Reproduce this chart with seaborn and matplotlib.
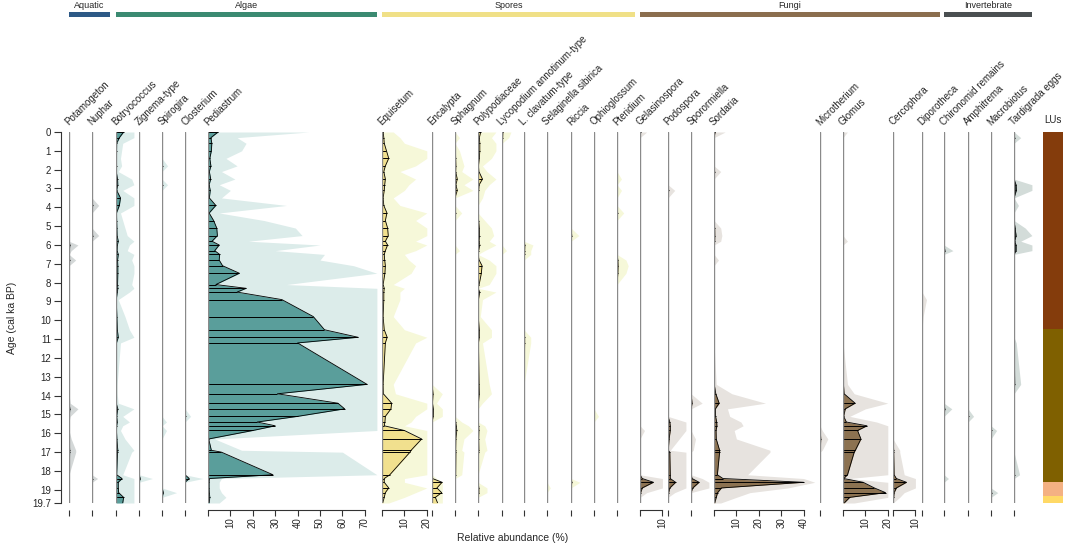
import numpy as np
import pandas as pd
import matplotlib
matplotlib.use("Agg")
import matplotlib.pyplot as plt
import seaborn as sns

sns.set_style("white")
plt.rcParams["font.family"] = ["Liberation Sans", "DejaVu Sans"]
plt.rcParams["axes.linewidth"] = 0.8

# sample ages (cal ka BP)
ages = [0.0, 0.3, 0.6, 1.0, 1.4, 1.8, 2.1, 2.5, 2.8, 3.1,
        3.5, 3.9, 4.3, 4.7, 5.1, 5.5, 5.8, 6.0, 6.3, 6.5,
        6.8, 7.1, 7.5, 8.1, 8.3, 8.5, 8.9, 9.8, 10.5, 10.9,
        11.2, 13.4, 13.9, 14.4, 14.7, 15.1, 15.4, 15.6, 15.85, 16.3,
        16.9, 17.0, 18.2, 18.4, 18.6, 18.9, 19.15, 19.4, 19.7]

# relative abundance (%) per taxon, one value per sample age
potamogeton = [0, 0, 0, 0, 0, 0, 0, 0, 0, 0,
               0, 0, 0, 0, 0, 0, 0, 0.4, 0.1, 0,
               0.3, 0, 0, 0, 0, 0, 0, 0, 0, 0,
               0, 0, 0, 0.05, 0.4, 0.05, 0, 0, 0, 0.1,
               0.3, 0.3, 0, 0, 0, 0, 0, 0, 0]
nuphar = [0, 0, 0, 0, 0, 0, 0, 0, 0, 0,
          0, 0.3, 0, 0, 0, 0.3, 0, 0, 0, 0,
          0, 0, 0, 0, 0, 0, 0, 0, 0, 0,
          0, 0, 0, 0, 0, 0, 0, 0, 0, 0,
          0, 0, 0, 0.25, 0, 0, 0, 0, 0]
botryococcus = [3.4, 1.5, 0.3, 0.25, 0.2, 0.25, 0.1, 0.7, 0.8, 0.3,
                2.0, 1.5, 0.2, 0.3, 0.4, 0.5, 1.0, 0.6, 0.5, 1.0,
                0.7, 0.8, 0.8, 0.7, 0.8, 0.6, 0.1, 0.4, 0.6, 1.0,
                0.2, 0.05, 0.05, 0.1, 0.8, 0.3, 0.6, 0.3, 0.2, 0.4,
                0.8, 0.7, 0.3, 2.7, 1.0, 1.0, 1.2, 3.4, 3.0]
zignema = [0, 0, 0, 0, 0, 0, 0, 0, 0, 0,
           0, 0, 0, 0, 0, 0, 0, 0, 0, 0,
           0, 0, 0, 0, 0, 0, 0, 0, 0, 0,
           0, 0, 0, 0, 0, 0, 0, 0, 0, 0,
           0, 0, 0, 0.6, 0, 0, 0, 0, 0]
spirogira = [0, 0, 0, 0, 0, 0.25, 0, 0, 0.25, 0,
             0, 0, 0, 0, 0, 0, 0, 0, 0, 0,
             0, 0, 0, 0, 0, 0, 0, 0, 0, 0,
             0, 0, 0, 0, 0, 0, 0.2, 0, 0.2, 0,
             0, 0, 0, 0, 0, 0, 0.65, 0, 0]
closterium = [0, 0, 0, 0, 0, 0, 0, 0, 0, 0,
              0, 0, 0, 0, 0, 0, 0, 0, 0, 0,
              0, 0, 0, 0, 0, 0, 0, 0, 0, 0,
              0, 0, 0, 0, 0, 0.25, 0, 0, 0, 0,
              0, 0, 0, 1.9, 0, 0, 0, 0, 0]
pediastrum = [4.5, 1.3, 1.7, 1.5, 0.8, 1.3, 0.6, 1.2, 0.5, 1.0,
              0.6, 3.5, 0.5, 2.5, 3.9, 4.2, 1.8, 5.0, 3.0, 5.2,
              5.0, 6.5, 14, 3.5, 17, 13, 33, 47, 52, 67,
              40, 71, 31, 58, 61, 40, 22, 30, 20, 0.3,
              1.5, 6, 29, 0.6, 0.5, 0.5, 0.6, 0.8, 0.5]
equisetum = [0.5, 0.8, 1.0, 2.0, 3.0, 1.5, 0.8, 1.5, 1.2, 1.0,
             0.5, 0.8, 2.2, 1.5, 2.5, 2.8, 1.5, 2.5, 1.5, 1.0,
             1.2, 1.5, 1.3, 0.5, 1.0, 0.8, 0.8, 0.5, 1.0, 2.3,
             1.5, 0.5, 0.6, 4.3, 4.0, 1.5, 1.3, 1.0, 10, 17.7,
             13, 12.5, 3.5, 1.0, 1.0, 3.0, 1.5, 1.0, 0.3]
encalypta = [0, 0, 0, 0, 0, 0, 0, 0, 0, 0,
             0, 0, 0, 0, 0, 0, 0, 0, 0, 0,
             0, 0, 0, 0, 0, 0, 0, 0, 0, 0,
             0, 0, 0.5, 0.2, 0.65, 0.6, 0, 0, 0, 0,
             0, 0, 0, 0.2, 4.5, 2.2, 4.3, 1.5, 2.5]
sphagnum = [0, 0.2, 0, 0.2, 0.3, 0.4, 0.3, 1.0, 0.4, 1.0,
            0, 0, 0.3, 0, 0, 0, 0, 0, 0.2, 0,
            0, 0, 0, 0, 0, 0, 0, 0, 0, 0,
            0, 0, 0, 0, 0, 0, 0.3, 0.6, 0.8, 0.4,
            0.3, 0.4, 0.3, 0, 0, 0, 0, 0, 0]
polypodiaceae = [1.2, 0.6, 0.8, 0.8, 0.6, 0.2, 0.4, 2.0, 0.5, 0.3,
                 0.2, 0, 0, 0.3, 0.6, 0.7, 0.5, 0.8, 0.3, 0,
                 0.5, 1.8, 1.5, 0.5, 0, 0.8, 0.2, 0.1, 0.6, 0.6,
                 0.2, 0.5, 0.6, 0.2, 0, 0, 0, 0.3, 0.4, 0.3,
                 0.4, 0.3, 0, 0, 0, 0.4, 0.4, 0, 0]
lycopodium = [0.4, 0.3, 0, 0, 0, 0, 0, 0, 0, 0,
              0, 0, 0, 0, 0, 0, 0, 0, 0.2, 0,
              0, 0, 0, 0, 0, 0, 0, 0, 0, 0,
              0, 0, 0, 0, 0, 0, 0, 0, 0, 0,
              0, 0, 0, 0, 0, 0, 0, 0, 0]
l_clavatum = [0, 0, 0, 0, 0, 0, 0, 0, 0, 0,
              0, 0, 0, 0, 0, 0, 0, 0.4, 0.3, 0.3,
              0, 0, 0, 0, 0, 0, 0, 0, 0, 0.3,
              0.3, 0, 0, 0, 0, 0, 0, 0, 0, 0,
              0, 0, 0, 0, 0, 0, 0, 0, 0]
selaginella = [0, 0, 0, 0, 0, 0, 0, 0, 0, 0,
               0, 0, 0, 0, 0, 0, 0, 0, 0, 0,
               0, 0, 0, 0, 0, 0, 0, 0, 0, 0,
               0, 0, 0, 0, 0, 0, 0, 0, 0, 0,
               0, 0, 0, 0, 0, 0.15, 0, 0, 0]
riccia = [0, 0, 0, 0, 0, 0, 0, 0, 0, 0,
          0, 0, 0, 0, 0, 0.35, 0, 0, 0, 0,
          0, 0, 0, 0, 0, 0, 0, 0, 0, 0,
          0, 0, 0, 0, 0, 0, 0, 0, 0, 0,
          0, 0, 0, 0, 0.4, 0, 0, 0, 0]
ophioglossum = [0, 0, 0, 0, 0, 0, 0, 0, 0, 0,
                0, 0, 0, 0, 0, 0, 0, 0, 0, 0,
                0, 0, 0, 0, 0, 0, 0, 0, 0, 0,
                0, 0, 0, 0, 0, 0.2, 0, 0, 0, 0,
                0, 0, 0, 0, 0, 0, 0, 0, 0]
pteridium = [0, 0, 0, 0, 0, 0, 0, 0.2, 0, 0.2,
             0, 0, 0.3, 0, 0, 0, 0, 0, 0, 0,
             0.4, 0.5, 0.4, 0, 0, 0, 0, 0, 0, 0,
             0, 0, 0, 0, 0, 0, 0, 0, 0, 0,
             0, 0, 0, 0, 0, 0, 0, 0, 0]
gelasinospora = [0.3, 0, 0, 0, 0, 0, 0, 0, 0, 0,
                 0, 0, 0, 0, 0, 0, 0, 0, 0, 0,
                 0, 0, 0, 0, 0, 0, 0, 0, 0, 0,
                 0, 0, 0, 0, 0, 0, 0, 0, 0.2, 0,
                 0, 0, 0, 1.0, 6.0, 1.0, 0.3, 0, 0]
podospora = [0, 0, 0, 0, 0, 0, 0, 0, 0, 0.3,
             0, 0, 0, 0, 0, 0, 0, 0, 0, 0,
             0, 0, 0, 0, 0, 0, 0, 0, 0, 0,
             0, 0, 0, 0, 0, 0, 0.8, 1.0, 1.0, 0.5,
             0.1, 0.8, 1.0, 1.0, 3.4, 0.8, 0.3, 0, 0]
sporormiella = [0, 0, 0, 0, 0, 0, 0, 0, 0, 0,
                0, 0, 0, 0, 0, 0, 0, 0, 0, 0,
                0, 0, 0, 0, 0, 0, 0, 0, 0, 0,
                0, 0, 0, 0.5, 0, 0, 0, 0, 0, 0.2,
                0.1, 0, 0, 0.5, 3.6, 0.8, 0, 0, 0]
sordaria = [0.5, 0, 0, 0, 0, 0, 0.3, 0, 0, 0,
            0, 0, 0, 0, 0.3, 0.35, 0.3, 0, 0, 0,
            0.2, 0, 0, 0, 0, 0, 0, 0, 0, 0,
            0, 0.1, 0.8, 2.3, 0.6, 0.7, 1.2, 1.3, 0.9, 1.0,
            2.5, 2.5, 1.5, 4.0, 40, 3.3, 1.6, 1.0, 0.3]
microtherium = [0, 0, 0, 0, 0, 0, 0, 0, 0, 0,
                0, 0, 0, 0, 0, 0, 0, 0, 0, 0,
                0, 0, 0, 0, 0, 0, 0, 0, 0, 0,
                0, 0, 0, 0, 0, 0, 0, 0, 0.1, 0.35,
                0.1, 0, 0, 0, 0, 0, 0, 0, 0]
glomus = [0.2, 0, 0, 0, 0, 0, 0, 0, 0, 0,
          0, 0, 0, 0, 0, 0, 0.2, 0, 0, 0,
          0, 0, 0, 0, 0, 0, 0, 0, 0, 0,
          0, 0.2, 0.5, 5.4, 1.0, 0.3, 1.5, 10.7, 6.5, 8.0,
          5.5, 5.0, 2.0, 0.3, 9, 14, 19, 3, 0.5]
cercophora = [0, 0, 0, 0, 0, 0, 0, 0, 0, 0,
              0, 0, 0, 0, 0, 0, 0, 0, 0, 0,
              0, 0, 0, 0, 0, 0, 0, 0, 0, 0,
              0, 0, 0, 0, 0, 0, 0, 0, 0, 0,
              0.3, 0.3, 0.5, 1.5, 6, 1.5, 0.5, 0.3, 0]
diporotheca = [0, 0, 0, 0, 0, 0, 0, 0, 0, 0,
               0, 0, 0, 0, 0, 0, 0, 0, 0, 0,
               0, 0, 0, 0, 0, 0, 0.2, 0.05, 0, 0,
               0, 0, 0, 0, 0, 0, 0, 0, 0, 0,
               0, 0, 0, 0, 0, 0, 0, 0, 0]
chironomid = [0, 0, 0, 0, 0, 0, 0, 0, 0, 0,
              0, 0, 0, 0, 0, 0, 0, 0, 0.4, 0,
              0, 0, 0, 0, 0, 0, 0, 0, 0, 0,
              0, 0, 0, 0, 0.35, 0, 0, 0, 0, 0,
              0, 0, 0, 0.2, 0, 0, 0, 0, 0]
amphitrema = [0, 0, 0, 0, 0, 0, 0, 0, 0, 0,
              0, 0, 0, 0, 0, 0, 0, 0, 0, 0,
              0, 0, 0, 0, 0, 0, 0, 0, 0, 0,
              0, 0, 0, 0, 0, 0.25, 0, 0, 0, 0,
              0, 0, 0, 0, 0, 0, 0, 0, 0]
macrobiotus = [0, 0, 0, 0, 0, 0, 0, 0, 0, 0,
               0, 0, 0, 0, 0, 0, 0, 0, 0, 0,
               0, 0, 0, 0, 0, 0, 0, 0, 0, 0,
               0, 0, 0, 0, 0, 0, 0, 0, 0.25, 0,
               0, 0, 0, 0, 0, 0, 0.3, 0, 0]
tardigrada = [0, 0.3, 0, 0, 0, 0, 0, 0, 0.9, 1.0,
              0, 0.2, 0, 0, 0.5, 0.9, 0.3, 0.9, 0.9, 0,
              0, 0, 0, 0, 0, 0, 0, 0, 0, 0,
              0.1, 0.3, 0, 0, 0, 0, 0, 0, 0, 0,
              0, 0, 0.25, 0, 0, 0, 0, 0, 0]

# local units (zone boundaries in cal ka BP)
lu_edges = [0, 10.46, 18.58, 19.33, 19.7]
lu_colors = ["#843c0c", "#7f6000", "#f4b183", "#ffd966"]

# group: header bar, main fill, x10 exaggeration fill
group_colors = {
    "Aquatic": ("#2d5986", "#5b6262", "#d4d8d8"),
    "Algae": ("#3b8a71", "#5a9e9b", "#dcecea"),
    "Spores": ("#f0e087", "#f1e08e", "#f6f8d9"),
    "Fungi": ("#8b6e4e", "#8c7251", "#e7e3df"),
    "Invertebrate": ("#4a4f51", "#24332f", "#d3dcd9"),
}

# name, values, group, left px, width (%), labelled ticks, exaggeration clip
columns = [
    ("Potamogeton", potamogeton, "Aquatic", 69, 8, [], None),
    ("Nuphar", nuphar, "Aquatic", 92, 8, [], None),
    ("Botryococcus", botryococcus, "Algae", 116, 8, [], None),
    ("Zignema-type", zignema, "Algae", 139, 8, [], None),
    ("Spirogira", spirogira, "Algae", 162, 8, [], None),
    ("Closterium", closterium, "Algae", 185, 8, [], None),
    ("Pediastrum", pediastrum, "Algae", 208, 75.4, [10, 20, 30, 40, 50, 60, 70], None),
    ("Equisetum", equisetum, "Spores", 382, 20, [10, 20], None),
    ("Encalypta", encalypta, "Spores", 432, 8, [], 4.6),
    ("Sphagnum", sphagnum, "Spores", 455, 8, [], None),
    ("Polypodiaceae", polypodiaceae, "Spores", 478, 8, [], None),
    ("Lycopodium annotinum-type", lycopodium, "Spores", 502, 8, [], None),
    ("L. clavatum-type", l_clavatum, "Spores", 524, 8, [], None),
    ("Selaginella sibirica", selaginella, "Spores", 547, 8, [], None),
    ("Riccia", riccia, "Spores", 571, 8, [], None),
    ("Ophioglossum", ophioglossum, "Spores", 594, 8, [], None),
    ("Pteridium", pteridium, "Spores", 617, 8, [], None),
    ("Gelasinospora", gelasinospora, "Fungi", 640, 10, [10], None),
    ("Podospora", podospora, "Fungi", 668, 8, [], None),
    ("Sporormiella", sporormiella, "Fungi", 691, 8, [], None),
    ("Sordaria", sordaria, "Fungi", 714, 45, [10, 20, 30, 40], None),
    ("Microtherium", microtherium, "Fungi", 820, 8, [], None),
    ("Glomus", glomus, "Fungi", 843, 20, [10, 20], None),
    ("Cercophora", cercophora, "Fungi", 893, 10, [10], None),
    ("Diporotheca", diporotheca, "Fungi", 922, 8, [], None),
    ("Chironomid remains", chironomid, "Invertebrate", 944, 8, [], None),
    ("Amphitrema", amphitrema, "Invertebrate", 968, 8, [], None),
    ("Macrobiotus", macrobiotus, "Invertebrate", 991, 8, [], None),
    ("Tardigrada eggs", tardigrada, "Invertebrate", 1014, 8, [], None),
]

W, H = 1065, 548
TOP, BOT = 132, 503
PX = 2.24      # pixels per percent
EXAG = 10
AGE_MAX = 19.7

fig = plt.figure(figsize=(W / 100, H / 100), dpi=100)
a = np.array(ages)
extent = {}

for i, (name, vals, grp, x0, width, ticks, clip) in enumerate(columns):
    v = np.array(vals, dtype=float)
    assert len(v) == len(a), name
    bar_c, main_c, shade_c = group_colors[grp]
    ax = fig.add_axes([x0 / W, 1 - BOT / H, width * PX / W, (BOT - TOP) / H])
    lo, hi = extent.get(grp, (1e9, -1e9))
    extent[grp] = (min(lo, x0), max(hi, x0 + width * PX))

    ax.fill_betweenx(a, 0, np.minimum(v * EXAG, clip or width), color=shade_c, lw=0, zorder=1)
    ax.fill_betweenx(a, 0, v, color=main_c, lw=0, zorder=2)
    nz = v > 0
    ax.hlines(a[nz], 0, v[nz], color="black", lw=0.7, zorder=3)
    df = pd.DataFrame({"age": a, "pct": v})
    sns.lineplot(data=df, x="pct", y="age", orient="y", sort=False, estimator=None,
                 color="black", lw=0.6, ax=ax, zorder=3)
    ax.axvline(0, color="#8a8a8a", lw=1.0, zorder=4)
    ax.set(xlim=(0, width), ylim=(AGE_MAX, 0), xlabel="", ylabel="")

    for s in ["top", "right"]:
        ax.spines[s].set_visible(False)
    if i == 0:
        ax.spines["left"].set_position(("outward", 6))
        ax.spines["left"].set_bounds(0, AGE_MAX)
        ax.spines["left"].set_color("#333333")
        ax.set_yticks(list(range(20)) + [AGE_MAX])
        ax.set_yticklabels([str(t) for t in range(20)] + ["19.7"])
        ax.tick_params(axis="y", left=True, length=5, width=0.8, color="#333333",
                       labelsize=7, pad=2)
    else:
        ax.spines["left"].set_visible(False)
        ax.set_yticks([])

    ax.spines["bottom"].set_position(("outward", 5))
    ax.spines["bottom"].set_bounds(0, ticks[-1] if ticks else 0)
    ax.spines["bottom"].set_color("#333333")
    ax.set_xticks([0] + ticks)
    ax.set_xticklabels([""] + [str(t) for t in ticks], rotation=90)
    ax.tick_params(axis="x", bottom=True, length=4, width=0.8, color="#333333",
                   labelsize=7, pad=1.5)

    ax.annotate(name, xy=(0, 1), xycoords="axes fraction", xytext=(0, 6),
                textcoords="offset pixels", rotation=45, ha="left", va="baseline",
                rotation_mode="anchor", fontsize=7)

# local units column
lu = fig.add_axes([1043 / W, 1 - BOT / H, 20 / W, (BOT - TOP) / H])
lu.bar(0, np.diff(lu_edges), bottom=lu_edges[:-1], width=1, color=lu_colors, lw=0)
lu.set(xlim=(-0.5, 0.5), ylim=(AGE_MAX, 0))
lu.axis("off")
lu.annotate("LUs", xy=(0.5, 1), xycoords="axes fraction", xytext=(0, 12),
            textcoords="offset pixels", ha="center", va="center", fontsize=7)

# group header bars
ov = fig.add_axes([0, 0, 1, 1], zorder=-1)
ov.set_xlim(0, W)
ov.set_ylim(H, 0)
ov.axis("off")
for grp, (lo, hi) in extent.items():
    ov.barh(14.5, hi - lo, left=lo, height=4.5, color=group_colors[grp][0], lw=0)
    ov.text((lo + hi) / 2, 6, grp, ha="center", va="center", fontsize=6.5)

fig.text(12 / W, 1 - 317.5 / H, "Age (cal ka BP)", rotation=90, ha="center",
         va="center", fontsize=7.5)
fig.text(513 / W, 1 - 538 / H, "Relative abundance (%)", ha="center", va="center",
         fontsize=7.5)

fig.savefig("out.png", dpi=100)
